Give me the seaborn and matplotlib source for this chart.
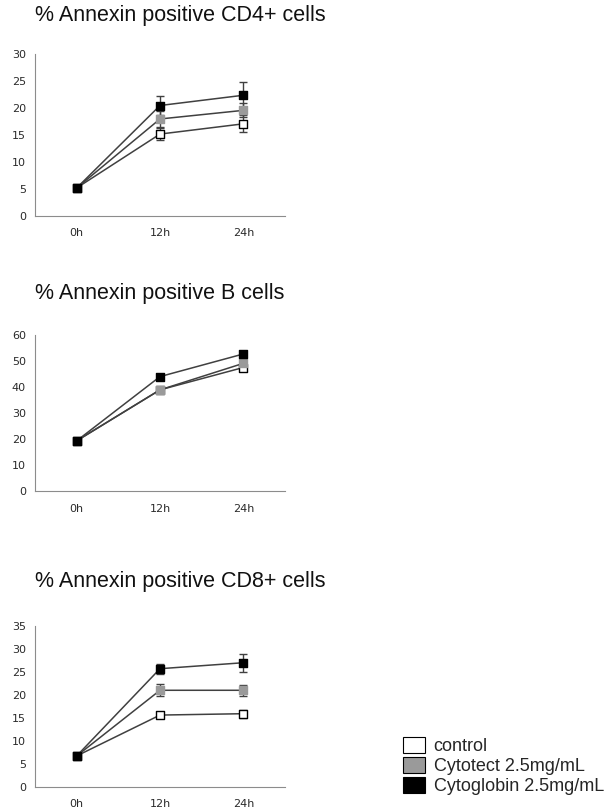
import matplotlib
matplotlib.use("Agg")
import matplotlib.pyplot as plt
from matplotlib.patches import Patch
import seaborn as sns
import pandas as pd
import numpy as np

sns.set_theme(style="white")
plt.rcParams['font.family'] = ['Liberation Sans', 'DejaVu Sans']

timepoints = ["0h", "12h", "24h"]
groups = ["control", "Cytotect 2.5mg/mL", "Cytoglobin 2.5mg/mL"]
group_fill = {"control": "white", "Cytotect 2.5mg/mL": "#9a9a9a", "Cytoglobin 2.5mg/mL": "black"}
group_edge = {"control": "black", "Cytotect 2.5mg/mL": "#9a9a9a", "Cytoglobin 2.5mg/mL": "black"}

titles = ["% Annexin positive CD4+ cells", "% Annexin positive B cells", "% Annexin positive CD8+ cells"]
yticks_list = [[0, 5, 10, 15, 20, 25, 30], [0, 10, 20, 30, 40, 50, 60], [0, 5, 10, 15, 20, 25, 30, 35]]

# means per panel: control, Cytotect, Cytoglobin
cd4_control = [5.2, 15.2, 17.1]
cd4_cytotect = [5.2, 18.0, 19.6]
cd4_cytoglobin = [5.2, 20.5, 22.4]
cd4_err_control = [0.2, 1.1, 1.6]
cd4_err_cytotect = [0.2, 1.5, 1.3]
cd4_err_cytoglobin = [0.2, 1.8, 2.5]

b_control = [19.3, 38.9, 47.5]
b_cytotect = [19.3, 38.9, 49.1]
b_cytoglobin = [19.3, 44.0, 52.7]
b_err_control = [0.3, 0.4, 0.5]
b_err_cytotect = [0.3, 0.4, 0.5]
b_err_cytoglobin = [0.3, 0.4, 0.5]

cd8_control = [6.7, 15.6, 15.9]
cd8_cytotect = [6.7, 21.0, 21.0]
cd8_cytoglobin = [6.7, 25.7, 27.0]
cd8_err_control = [0.3, 0.7, 0.9]
cd8_err_cytotect = [0.3, 1.3, 1.2]
cd8_err_cytoglobin = [0.3, 1.1, 2.0]

panels = [
    ([cd4_control, cd4_cytotect, cd4_cytoglobin], [cd4_err_control, cd4_err_cytotect, cd4_err_cytoglobin]),
    ([b_control, b_cytotect, b_cytoglobin], [b_err_control, b_err_cytotect, b_err_cytoglobin]),
    ([cd8_control, cd8_cytotect, cd8_cytoglobin], [cd8_err_control, cd8_err_cytotect, cd8_err_cytoglobin]),
]

W, H = 604, 810
fig = plt.figure(figsize=(W / 100, H / 100), dpi=100)

# axes rectangles in pixels: (left, top, right, bottom)
rects = [(35, 54.3, 285, 216), (35, 335, 285, 491), (35, 626, 285, 786.7)]
title_y = [15, 294, 582]
axis_grey = "#8c8c8c"

for i, ((means, errs), (l, t, r, b)) in enumerate(zip(panels, rects)):
    ax = fig.add_axes([l / W, 1 - b / H, (r - l) / W, (b - t) / H])
    rows = []
    for g, m, e in zip(groups, means, errs):
        for k, tp in enumerate(timepoints):
            rows.append({"group": g, "time": tp, "x": k, "value": m[k], "err": e[k]})
    df = pd.DataFrame(rows)

    sns.lineplot(data=df, x="x", y="value", units="group", estimator=None,
                 color="#404040", lw=1.1, ax=ax, zorder=1, legend=False)
    for g in groups:
        sub = df[df["group"] == g]
        ax.errorbar(sub["x"], sub["value"], yerr=sub["err"], fmt="none",
                    ecolor="#404040", elinewidth=1.0, capsize=3.0, capthick=1.0, zorder=2)
    for z, g in enumerate(groups):
        sub = df[df["group"] == g]
        sns.scatterplot(data=sub, x="x", y="value", marker="s", s=26,
                        color=group_fill[g], edgecolor=group_edge[g], linewidth=1.0,
                        ax=ax, zorder=3 + z, legend=False)

    yt = yticks_list[i]
    ax.set_ylim(0, yt[-1])
    ax.set_yticks(yt)
    ax.set_xlim(-0.5, 2.5)
    ax.set_xticks([0, 1, 2])
    ax.set_xticklabels(timepoints)
    ax.set_xticks([-0.5, 0.5, 1.5, 2.5], minor=True)
    ax.tick_params(axis="x", which="major", length=0, pad=9, labelsize=8, colors="#2a2a2a")
    ax.tick_params(axis="x", which="minor", length=3.5, width=0.8, color=axis_grey, direction="out")
    ax.tick_params(axis="y", which="major", length=3.5, width=0.8, color=axis_grey, direction="out",
                   labelsize=8, labelcolor="#2a2a2a", pad=3)
    for lab in ax.get_xticklabels() + ax.get_yticklabels():
        lab.set_family(['DejaVu Sans'])
    ax.set_xlabel("")
    ax.set_ylabel("")
    for s in ["top", "right"]:
        ax.spines[s].set_visible(False)
    for s in ["left", "bottom"]:
        ax.spines[s].set_color(axis_grey)
        ax.spines[s].set_linewidth(0.8)
    ax.set_facecolor("white")

    fig.text(35 / W, 1 - title_y[i] / H, titles[i], fontsize=15.5, color="#111111",
             ha="left", va="center")

handles = [Patch(facecolor=group_fill[g], edgecolor="black", linewidth=0.8) for g in groups]
fig.legend(handles, groups, loc="upper left", bbox_to_anchor=(403 / W, 1 - 737 / H),
           frameon=False, fontsize=13, handlelength=1.2, handleheight=1.0,
           handletextpad=0.5, labelspacing=0.1, borderpad=0, borderaxespad=0)

fig.savefig("out.png", dpi=100, facecolor="white")
